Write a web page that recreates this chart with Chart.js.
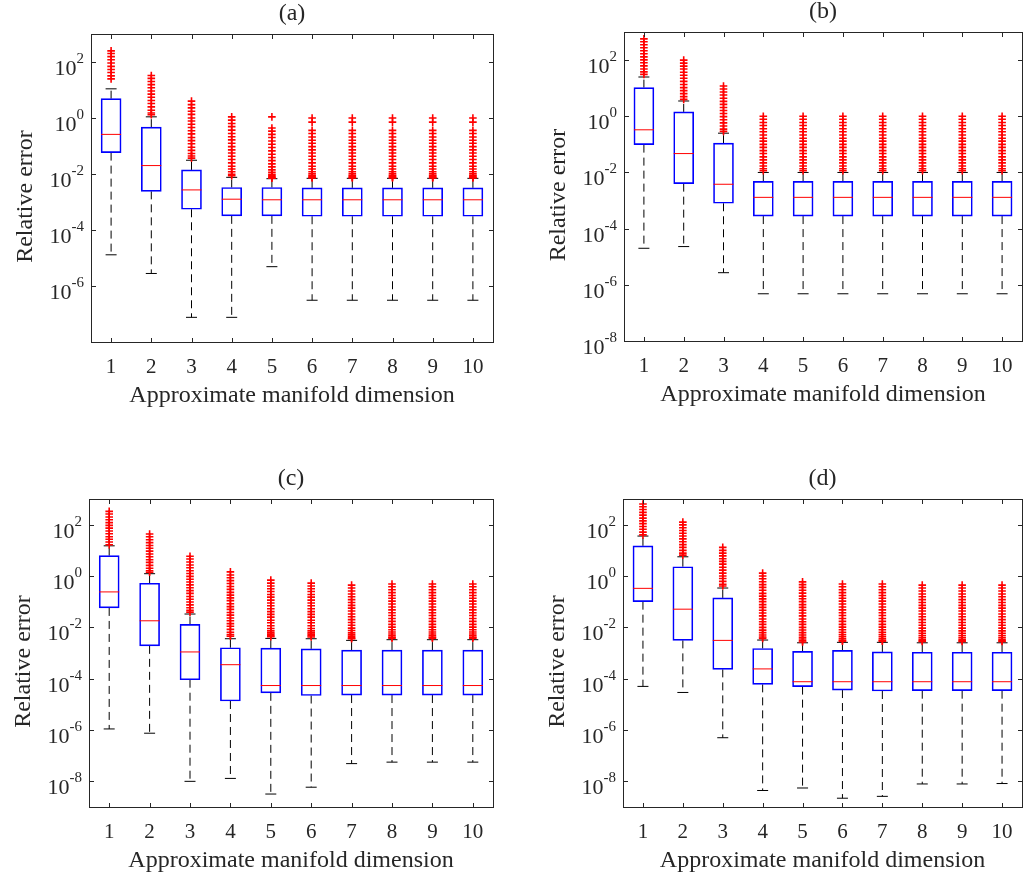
<!DOCTYPE html>
<html>
<head>
<meta charset="utf-8">
<title>Relative error vs approximate manifold dimension</title>
<script src="https://cdn.jsdelivr.net/npm/chart.js@4.4.1/dist/chart.umd.min.js"></script>
<style>
  body { margin: 0; background: #fff; }
  #page { position: relative; width: 1033px; height: 879px; overflow: hidden; }
  #page canvas { position: absolute; }
</style>
</head>
<body>
<div id="page">
  <canvas id="panelA" width="516" height="440" style="left:0;top:0"></canvas>
  <canvas id="panelB" width="517" height="440" style="left:516px;top:0"></canvas>
  <canvas id="panelC" width="516" height="439" style="left:0;top:440px"></canvas>
  <canvas id="panelD" width="517" height="439" style="left:516px;top:440px"></canvas>
</div>
<script>
// categories and tick labels
const dims = [1, 2, 3, 4, 5, 6, 7, 8, 9, 10];
const xTickLabels = ['1', '2', '3', '4', '5', '6', '7', '8', '9', '10'];
const yTickExpsA = [2, 0, -2, -4, -6];
const yTickExpsB = [2, 0, -2, -4, -6, -8];
const yTickExpsCD = [2, 0, -2, -4, -6, -8];

// (a)
const loA  = [1.3e-5, 2.8e-6, 7.6e-8, 7.6e-8, 4.9e-6, 3.1e-7, 3.1e-7, 3.1e-7, 3.1e-7, 3.1e-7];
const q1A  = [0.058, 2.4e-3, 5.5e-4, 3.2e-4, 3.2e-4, 3.1e-4, 3.1e-4, 3.1e-4, 3.1e-4, 3.1e-4];
const medA = [0.26, 0.02, 2.7e-3, 1.26e-3, 1.2e-3, 1.2e-3, 1.2e-3, 1.2e-3, 1.2e-3, 1.2e-3];
const q3A  = [4.9, 0.47, 0.014, 3.3e-3, 3.3e-3, 3.2e-3, 3.2e-3, 3.2e-3, 3.2e-3, 3.2e-3];
const hiA  = [11, 1.1, 0.031, 7.6e-3, 6.8e-3, 7.0e-3, 7.0e-3, 7.0e-3, 7.0e-3, 7.0e-3];
const outA6 = [1.0, 0.71, 0.36, 0.28, 0.21, 0.16, 0.125, 0.095, 0.073, 0.056, 0.043, 0.033, 0.025, 0.019, 0.015, 0.012, 0.0102, 0.009, 0.0082, 0.0077, 0.0073];
const outA = [
  [250, 200, 155, 120, 92, 70, 54, 42, 32, 25],
  [33, 26, 20, 15.5, 12, 9.2, 7.1, 5.5, 4.2, 3.3, 2.5, 1.9, 1.5, 1.3],
  [4.0, 3.0, 2.3, 1.75, 1.35, 1.0, 0.78, 0.6, 0.46, 0.35, 0.27, 0.2, 0.155, 0.12, 0.09, 0.07, 0.054, 0.044, 0.037],
  [1.1, 0.84, 0.64, 0.49, 0.37, 0.28, 0.215, 0.165, 0.125, 0.095, 0.073, 0.056, 0.043, 0.033, 0.025, 0.019, 0.015, 0.012, 0.0098, 0.0087],
  [1.1, 0.44, 0.34, 0.26, 0.2, 0.15, 0.115, 0.088, 0.067, 0.051, 0.039, 0.03, 0.023, 0.018, 0.014, 0.0115, 0.0098, 0.0088, 0.0081, 0.0075, 0.0071],
  outA6, outA6, outA6, outA6, outA6
];

// (b)
const loB  = [2e-5, 2.3e-5, 2.7e-6, 4.8e-7, 4.8e-7, 4.8e-7, 4.8e-7, 4.8e-7, 4.8e-7, 4.8e-7];
const q1B  = [0.098, 4e-3, 8e-4, 2.8e-4, 2.8e-4, 2.8e-4, 2.8e-4, 2.8e-4, 2.8e-4, 2.8e-4];
const medB = [0.33, 0.047, 3.8e-3, 1.3e-3, 1.3e-3, 1.3e-3, 1.3e-3, 1.3e-3, 1.3e-3, 1.3e-3];
const q3B  = [10.5, 1.43, 0.11, 4.8e-3, 4.8e-3, 4.8e-3, 4.8e-3, 4.8e-3, 4.8e-3, 4.8e-3];
const hiB  = [25, 3.5, 0.25, 0.01, 0.01, 0.01, 0.01, 0.01, 0.01, 0.01];
const outB4 = [1.0, 0.78, 0.6, 0.47, 0.36, 0.28, 0.215, 0.165, 0.13, 0.1, 0.078, 0.06, 0.047, 0.036, 0.028, 0.022, 0.017, 0.0135, 0.0115];
const outB = [
  [570, 450, 350, 275, 215, 168, 130, 102, 80, 62, 48, 38, 31],
  [100, 78, 61, 48, 37, 29, 22.5, 17.5, 13.5, 10.5, 8.2, 6.4, 5.0, 4.0],
  [12, 9.4, 7.3, 5.7, 4.4, 3.4, 2.65, 2.05, 1.6, 1.25, 0.97, 0.75, 0.58, 0.45, 0.35, 0.29],
  outB4, outB4, outB4, outB4, outB4, outB4, outB4
];

// (c)
const loC  = [1.1e-6, 7.5e-7, 1e-8, 1.3e-8, 3.2e-9, 5.9e-9, 4.9e-8, 5.6e-8, 5.6e-8, 5.6e-8];
const q1C  = [0.057, 1.9e-3, 9.1e-5, 1.35e-5, 2.8e-5, 2.2e-5, 2.3e-5, 2.3e-5, 2.3e-5, 2.3e-5];
const medC = [0.24, 0.018, 1.1e-3, 3.5e-4, 5.4e-5, 5.4e-5, 5.4e-5, 5.4e-5, 5.4e-5, 5.4e-5];
const q3C  = [6.2, 0.52, 0.013, 1.6e-3, 1.55e-3, 1.45e-3, 1.3e-3, 1.3e-3, 1.3e-3, 1.3e-3];
const hiC  = [15, 1.23, 0.033, 3.6e-3, 3.7e-3, 3.6e-3, 3.1e-3, 3.3e-3, 3.3e-3, 3.3e-3];
const outC8 = [0.49, 0.38, 0.29, 0.225, 0.175, 0.135, 0.105, 0.081, 0.062, 0.048, 0.037, 0.029, 0.022, 0.017, 0.013, 0.0102, 0.0081, 0.0066, 0.0055, 0.0047, 0.0041, 0.0038];
const outC = [
  [330, 260, 200, 155, 120, 94, 73, 57, 44, 34, 27, 21, 16.5],
  [43, 34, 26, 20, 15.5, 12, 9.3, 7.2, 5.6, 4.3, 3.4, 2.6, 2.0, 1.6, 1.4],
  [5.9, 4.6, 3.5, 2.7, 2.1, 1.6, 1.25, 0.97, 0.75, 0.58, 0.45, 0.35, 0.27, 0.21, 0.16, 0.125, 0.097, 0.075, 0.058, 0.046, 0.039],
  [1.45, 1.1, 0.85, 0.66, 0.51, 0.39, 0.3, 0.23, 0.18, 0.14, 0.11, 0.083, 0.064, 0.05, 0.038, 0.03, 0.023, 0.018, 0.014, 0.011, 0.0083, 0.0064, 0.0052, 0.0045],
  [0.69, 0.53, 0.41, 0.32, 0.25, 0.19, 0.15, 0.115, 0.089, 0.069, 0.053, 0.041, 0.032, 0.025, 0.019, 0.015, 0.0115, 0.009, 0.0073, 0.0061, 0.0053, 0.0047, 0.0043],
  [0.53, 0.41, 0.32, 0.25, 0.19, 0.15, 0.115, 0.089, 0.069, 0.053, 0.041, 0.032, 0.025, 0.019, 0.015, 0.0115, 0.009, 0.0073, 0.0061, 0.0053, 0.0047, 0.0042],
  [0.44, 0.34, 0.26, 0.2, 0.155, 0.12, 0.093, 0.072, 0.056, 0.043, 0.033, 0.026, 0.02, 0.0155, 0.012, 0.0093, 0.0075, 0.0061, 0.0051, 0.0044, 0.0039, 0.0036],
  outC8, outC8, outC8
];

// (d)
const loD  = [5e-5, 2.9e-5, 5e-7, 4.4e-9, 5.5e-9, 2.2e-9, 2.6e-9, 7.9e-9, 7.9e-9, 8.2e-9];
const q1D  = [0.10, 3.1e-3, 2.3e-4, 6e-5, 4.9e-5, 3.6e-5, 3.3e-5, 3.4e-5, 3.4e-5, 3.4e-5];
const medD = [0.33, 0.051, 3.1e-3, 2.4e-4, 7.6e-5, 7.6e-5, 7.6e-5, 7.6e-5, 7.6e-5, 7.6e-5];
const q3D  = [15, 2.3, 0.14, 1.5e-3, 1.15e-3, 1.26e-3, 1.1e-3, 1.07e-3, 1.07e-3, 1.07e-3];
const hiD  = [36, 5.6, 0.34, 3.2e-3, 2.5e-3, 2.6e-3, 2.6e-3, 2.5e-3, 2.5e-3, 2.5e-3];
const outD6 = [0.49, 0.38, 0.29, 0.225, 0.175, 0.135, 0.105, 0.081, 0.062, 0.048, 0.037, 0.029, 0.022, 0.017, 0.013, 0.0102, 0.0081, 0.0064, 0.0052, 0.0043, 0.0036, 0.0031, 0.0029];
const outD8 = [0.44, 0.34, 0.26, 0.2, 0.155, 0.12, 0.093, 0.072, 0.056, 0.043, 0.033, 0.026, 0.02, 0.0155, 0.012, 0.0093, 0.0073, 0.0059, 0.0048, 0.004, 0.0034, 0.003, 0.0028];
const outD = [
  [640, 500, 390, 300, 235, 180, 140, 110, 85, 66, 51, 40],
  [126, 98, 76, 59, 46, 36, 28, 21.5, 16.7, 13, 10, 7.8, 6.5],
  [13, 10, 7.8, 6.1, 4.7, 3.7, 2.9, 2.2, 1.7, 1.3, 1.0, 0.8, 0.62, 0.48, 0.41],
  [1.3, 1.0, 0.78, 0.6, 0.46, 0.36, 0.28, 0.21, 0.165, 0.128, 0.1, 0.077, 0.06, 0.046, 0.036, 0.028, 0.021, 0.0165, 0.013, 0.01, 0.0078, 0.0062, 0.005, 0.0042, 0.0037],
  [0.59, 0.46, 0.36, 0.28, 0.215, 0.165, 0.13, 0.1, 0.077, 0.06, 0.046, 0.036, 0.028, 0.021, 0.0165, 0.013, 0.01, 0.0079, 0.0062, 0.005, 0.0041, 0.0035, 0.003, 0.0027],
  outD6, outD6, outD8, outD8, outD8
];

const FONT = "'Liberation Serif', 'Times New Roman', serif";
const INK = '#262626';

// frame, inward ticks, tick labels and titles in the MATLAB look
const matlabAxes = {
  id: 'matlabAxes',
  afterDraw(chart, args, opts) {
    const { ctx, chartArea: a, scales: { x, y } } = chart;
    ctx.save();
    ctx.strokeStyle = INK;
    ctx.fillStyle = INK;
    ctx.lineWidth = 1;
    ctx.strokeRect(a.left + 0.5, a.top + 0.5, a.right - a.left, a.bottom - a.top);

    ctx.beginPath();
    dims.forEach(d => {
      const px = Math.round(x.getPixelForValue(d)) + 0.5;
      ctx.moveTo(px, a.bottom); ctx.lineTo(px, a.bottom - 4);
      ctx.moveTo(px, a.top + 1); ctx.lineTo(px, a.top + 5);
    });
    opts.yExps.forEach(e => {
      const py = Math.round(y.getPixelForValue(Math.pow(10, e))) + 0.5;
      ctx.moveTo(a.left + 1, py); ctx.lineTo(a.left + 5, py);
      ctx.moveTo(a.right, py); ctx.lineTo(a.right - 4, py);
    });
    ctx.stroke();

    // x tick labels
    ctx.font = '21px ' + FONT;
    ctx.textAlign = 'center';
    ctx.textBaseline = 'alphabetic';
    dims.forEach((d, i) => ctx.fillText(xTickLabels[i], x.getPixelForValue(d), a.bottom + 31));

    // y tick labels: 10 with a raised exponent
    opts.yExps.forEach(e => {
      const py = y.getPixelForValue(Math.pow(10, e));
      const exp = String(e);
      ctx.font = '15px ' + FONT;
      const ew = ctx.measureText(exp).width;
      ctx.textAlign = 'left';
      const right = a.left - 7;
      ctx.fillText(exp, right - ew, py + 1);
      ctx.font = '22px ' + FONT;
      ctx.textAlign = 'right';
      ctx.fillText('10', right - ew, py + 13);
    });

    // axis titles and panel title
    const cx = (a.left + a.right) / 2;
    ctx.font = '24px ' + FONT;
    ctx.textAlign = 'center';
    ctx.fillText('Approximate manifold dimension', cx, a.bottom + 60);
    ctx.fillText(opts.title, cx, a.top - 14);
    ctx.translate(a.left - 59, (a.top + a.bottom) / 2 + 8.5);
    ctx.rotate(-Math.PI / 2);
    ctx.fillText('Relative error', 0, 0);
    ctx.restore();
  }
};

function boxPanel(id, title, lo, q1, med, q3, hi, outs, yMin, yMax, yExps, pad) {
  const outliers = [];
  outs.forEach((list, i) => list.forEach(v => outliers.push({ x: dims[i], y: v })));
  const whiskers = [];
  dims.forEach((d, i) => {
    whiskers.push({ x: d, y: q3[i] }, { x: d, y: hi[i] }, { x: d, y: null },
                  { x: d, y: q1[i] }, { x: d, y: lo[i] }, { x: d, y: null });
  });
  const caps = [];
  dims.forEach((d, i) => caps.push({ x: d, y: lo[i] }, { x: d, y: hi[i] }));

  new Chart(document.getElementById(id), {
    type: 'scatter',
    data: {
      datasets: [
        { type: 'scatter', data: outliers, pointStyle: 'cross', pointRadius: 3.8,
          borderColor: '#ff0000', borderWidth: 1.6 },
        { type: 'scatter', data: dims.map((d, i) => ({ x: d, y: med[i] })), pointStyle: 'line',
          pointRadius: 10, borderColor: '#ff0000', borderWidth: 1 },
        { type: 'scatter', data: caps, pointStyle: 'line', pointRadius: 5.5,
          borderColor: '#000000', borderWidth: 1 },
        { type: 'bar', data: dims.map((d, i) => ({ x: d, y: [q1[i], q3[i]] })),
          backgroundColor: 'rgba(0,0,0,0)', borderColor: '#0000ff', borderWidth: 1,
          borderSkipped: false, barThickness: 20 },
        { type: 'line', data: whiskers, borderColor: '#000000', borderWidth: 1,
          borderDash: [8, 5], pointRadius: 0, spanGaps: false, fill: false }
      ]
    },
    options: {
      responsive: false,
      animation: false,
      devicePixelRatio: 1,
      events: [],
      layout: { padding: pad },
      plugins: { legend: { display: false }, tooltip: { enabled: false },
                 matlabAxes: { title: title, yExps: yExps } },
      scales: {
        x: { type: 'linear', min: 0.5, max: 10.5, offset: false, display: false },
        y: { type: 'logarithmic', min: yMin, max: yMax, display: false }
      }
    },
    plugins: [matlabAxes]
  });
}

boxPanel('panelA', '(a)', loA, q1A, medA, q3A, hiA, outA, 1e-8, 1e3, yTickExpsA,
         { left: 91, top: 34, right: 23, bottom: 98 });
boxPanel('panelB', '(b)', loB, q1B, medB, q3B, hiB, outB, 1e-8, 1e3, yTickExpsB,
         { left: 108, top: 32, right: 5, bottom: 99 });
boxPanel('panelC', '(c)', loC, q1C, medC, q3C, hiC, outC, 1e-9, 1e3, yTickExpsCD,
         { left: 89, top: 59, right: 23, bottom: 72 });
boxPanel('panelD', '(d)', loD, q1D, medD, q3D, hiD, outD, 1e-9, 1e3, yTickExpsCD,
         { left: 107, top: 59, right: 4, bottom: 72 });
</script>
</body>
</html>
